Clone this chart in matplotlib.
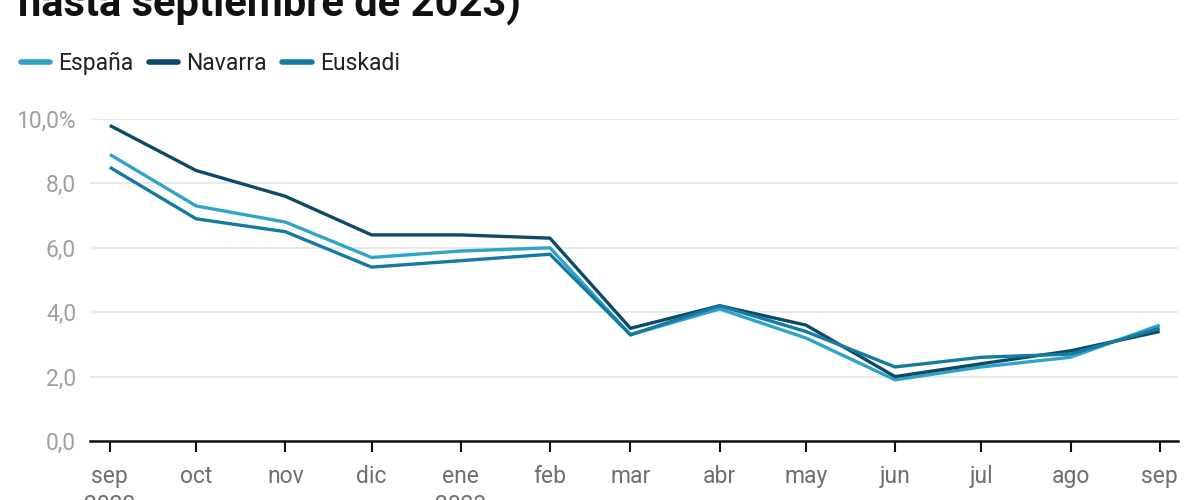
import matplotlib
matplotlib.use("Agg")
import matplotlib.pyplot as plt
import numpy as np

# ── Data ──────────────────────────────────────────────────────────────────────
MONTHS = np.array(["2022-09-01", "2022-10-01", "2022-11-01", "2022-12-01",
                   "2023-01-01", "2023-02-01", "2023-03-01", "2023-04-01",
                   "2023-05-01", "2023-06-01", "2023-07-01", "2023-08-01",
                   "2023-09-01"], dtype="datetime64[D]")
MONTH_LABELS = ["sep\n2022", "oct", "nov", "dic", "ene\n2023", "feb", "mar",
                "abr", "may", "jun", "jul", "ago", "sep"]

espana  = [8.9, 7.3, 6.8, 5.7, 5.9, 6.0, 3.3, 4.1, 3.2, 1.9, 2.3, 2.6, 3.6]
navarra = [9.8, 8.4, 7.6, 6.4, 6.4, 6.3, 3.5, 4.2, 3.6, 2.0, 2.4, 2.8, 3.4]
euskadi = [8.5, 6.9, 6.5, 5.4, 5.6, 5.8, 3.3, 4.2, 3.4, 2.3, 2.6, 2.7, 3.5]

SERIES = [
    ("España",  espana,  "#2fa4c9"),
    ("Navarra", navarra, "#0c4a68"),
    ("Euskadi", euskadi, "#1579a0"),
]

FONT = ["Roboto", "DejaVu Sans"]
plt.rcParams["font.family"] = FONT

# ── Figure ────────────────────────────────────────────────────────────────────
fig = plt.figure(figsize=(12, 5), dpi=100)
ax = fig.add_axes([0.075, 0.118, 0.907, 0.644])

x = MONTHS.astype("datetime64[ms]").astype(object)
for name, vals, color in SERIES:
    ax.plot(x, vals, color=color, linewidth=2.4, label=name,
            solid_joinstyle="miter", solid_capstyle="butt")

ax.set_ylim(0, 10)
ax.set_yticks([0, 2, 4, 6, 8, 10])
ax.set_yticklabels(["0,0", "2,0", "4,0", "6,0", "8,0", "10,0%"])
ax.set_xlim(x[0] - (x[1] - x[0]) * 0.23, x[-1] + (x[-1] - x[-2]) * 0.21)
ax.set_xticks(x)
ax.set_xticklabels(MONTH_LABELS)

ax.grid(True, axis="y", color="#e3e3e3", linewidth=1.1)
ax.set_axisbelow(True)
for side in ["top", "right", "left"]:
    ax.spines[side].set_visible(False)
ax.spines["bottom"].set_color("#111111")
ax.spines["bottom"].set_linewidth(1.8)
ax.spines["bottom"].set_zorder(5)

ax.tick_params(axis="y", length=0, pad=10, labelsize=16.5, labelcolor="#a0a0a0")
ax.tick_params(axis="x", length=8, width=1.5, color="#111111", pad=9,
               labelsize=16.5, labelcolor="#6f6f6f")
for lbl in ax.get_xticklabels():
    lbl.set_linespacing(1.35)

# Title (cut off at the top in the source) and legend
fig.text(0.015, 0.968, "hasta septiembre de 2023)", fontsize=30,
         fontweight="bold", color="#111111", va="baseline", ha="left")
fig.legend(loc="center left", bbox_to_anchor=(0.0, 0.873), ncol=3,
           frameon=False, fontsize=16.5, handlelength=1.3, handletextpad=0.35,
           columnspacing=0.65, labelcolor="#222222")
for line in fig.legends[0].get_lines():
    line.set_linewidth(4)
    line.set_solid_capstyle("round")

fig.savefig("out.png", dpi=100, facecolor="white")
plt.close(fig)
